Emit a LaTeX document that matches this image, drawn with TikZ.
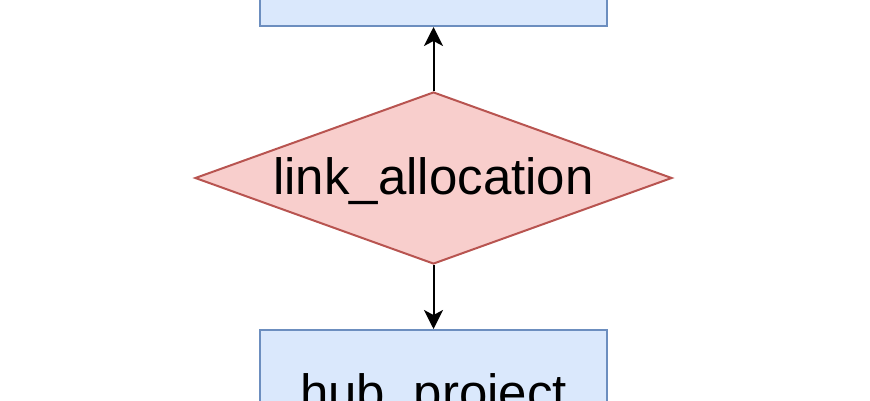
\documentclass[tikz,border=0pt]{standalone}
\usepackage{fontspec}
\setmainfont{Liberation Sans}
\usetikzlibrary{shapes.geometric,arrows.meta}
\definecolor{bluefill}{HTML}{DAE8FC}
\definecolor{bluedraw}{HTML}{6C8EBF}
\definecolor{redfill}{HTML}{F8CECC}
\definecolor{reddraw}{HTML}{B85450}
\tikzset{
  procbox/.style={draw=bluedraw,fill=bluefill,line width=2pt,inner sep=0pt,minimum width=347pt,minimum height=160pt},
  decision/.style={diamond,draw=reddraw,fill=redfill,line width=2pt,inner sep=0pt,minimum width=477pt,minimum height=172pt,aspect=2.77},
  bigtext/.style={font=\fontsize{51}{61}\selectfont},
  flow/.style={line width=2pt,-{Stealth[length=19pt,width=19pt,inset=5pt]}}
}
\begin{document}
\begin{tikzpicture}[x=1pt,y=-1pt]
\useasboundingbox (0,0) rectangle (870,400);
\node[procbox,anchor=south] (top) at (433.5,27) {};
\node[procbox,anchor=north] (bot) at (433.5,329) {};
\node[bigtext,anchor=base] (bottxt) at (433.5,410.7) {hub\_project};
\node[decision] (dec) at (433.5,178) {};
\node[bigtext,anchor=base] (dectxt) at (433.5,194) {link\_allocation};
\draw[flow] (dec.north) -- (top.south);
\draw[flow] (dec.south) -- (bot.north);
\end{tikzpicture}
\end{document}
